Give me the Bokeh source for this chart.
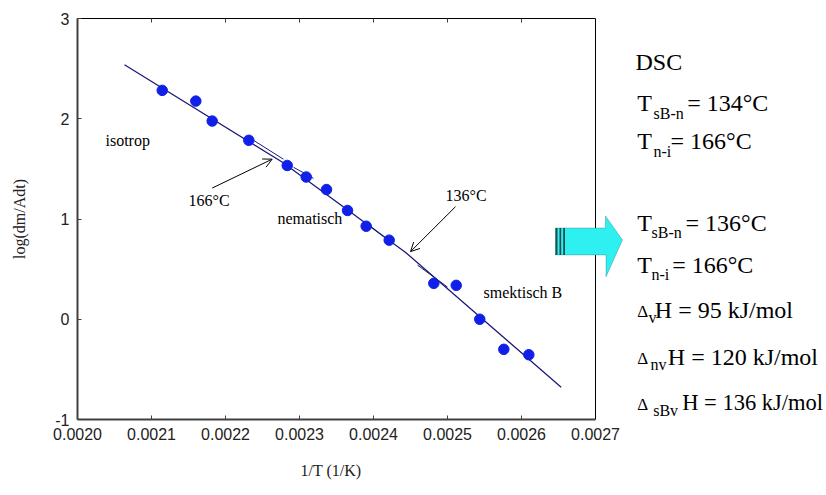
from bokeh.plotting import figure
from bokeh.models import (Label, Arrow, OpenHead, FixedTicker, PrintfTickFormatter,
                          LinearAxis, PolyAnnotation, Range1d, Span, Title)
from bokeh.embed import file_html
from bokeh.resources import INLINE

# ---- data ----
inv_T = [0.0021145, 0.0021599, 0.0021820, 0.0022315, 0.0022834, 0.0023091, 0.0023365,
         0.0023649, 0.0023901, 0.0024212, 0.0024815, 0.0025118, 0.0025436, 0.0025761, 0.0026099]
log_rate = [2.283, 2.176, 1.977, 1.785, 1.534, 1.419, 1.294,
            1.085, 0.928, 0.789, 0.358, 0.338, 0.000, -0.300, -0.354]

fit_x = [0.0020635, 0.002277, 0.002443, 0.0026536]
fit_y = [2.539, 1.566, 0.669, -0.678]

sub_fit_x = [[0.0022378, 0.0022784], [0.0022919, 0.0023189], [0.0023892, 0.0024230], [0.0024595, 0.0025000]]
sub_fit_y = [[1.785, 1.596], [1.516, 1.406], [0.968, 0.769], [0.540, 0.321]]

x_ticks = [0.0020, 0.0021, 0.0022, 0.0023, 0.0024, 0.0025, 0.0026, 0.0027]
y_ticks = [-1, 0, 1, 2, 3]

phase_labels = ["isotrop", "nematisch", "smektisch B"]
transition_labels = ["166°C", "136°C"]

# ---- layout ----
W, H = 826, 495
FL, FR, FT, FB = 77, 595, 18, 420
X0, X1, Y0, Y1 = 0.0020, 0.0027, -1.0, 3.0


def px2x(px):
    return X0 + (px - FL) / (FR - FL) * (X1 - X0)


def py2y(py):
    return Y1 - (py - FT) / (FB - FT) * (Y1 - Y0)


# the frame spans to the right edge so the side notes are not clipped;
# the axes are bounded to the real plot box
p = figure(width=W, height=H, x_range=Range1d(X0, px2x(W)), y_range=Range1d(Y0, Y1),
           output_backend="svg", toolbar_location=None,
           min_border_left=FL, min_border_right=0, min_border_top=FT, min_border_bottom=H - FB)
p.background_fill_color = "white"
p.border_fill_color = "white"
p.outline_line_color = None
p.xgrid.visible = False
p.ygrid.visible = False

serif = "Liberation Serif"
sans = "Liberation Sans"

for ax in (p.xaxis[0], p.yaxis[0]):
    ax.axis_line_color = "#404040"
    ax.axis_line_width = 2
    ax.major_tick_in = 4
    ax.major_tick_out = 0
    ax.minor_tick_line_color = None
    ax.major_tick_line_color = "#404040"
    ax.major_label_text_font = sans
    ax.major_label_text_font_size = "16px"
    ax.major_label_text_color = "#222222"
    ax.axis_label_text_font = serif
    ax.axis_label_text_font_size = "16px"
    ax.axis_label_text_font_style = "normal"
    ax.axis_label_text_color = "#222222"

p.xaxis.bounds = (X0, X1)
p.xaxis.ticker = FixedTicker(ticks=x_ticks)
p.xaxis.formatter = PrintfTickFormatter(format="%.4f")
p.xaxis.major_label_standoff = 8

p.yaxis.ticker = FixedTicker(ticks=y_ticks)
p.yaxis.formatter = PrintfTickFormatter(format="%d")
p.yaxis.axis_label = "log(dm/Adt)"
p.yaxis.major_label_standoff = 8
p.yaxis.axis_label_standoff = 24

# x-axis title, placed under the plot box (not the extended frame)
p.add_layout(Title(text="1/T (1/K)", align="left", offset=300 - FL, standoff=34,
                   vertical_align="bottom",
                   text_font=serif, text_font_size="16px", text_font_style="normal",
                   text_color="#222222"), "below")

top_axis = LinearAxis(ticker=FixedTicker(ticks=x_ticks), bounds=(X0, X1),
                      axis_line_color="black", axis_line_width=1,
                      major_tick_in=4, major_tick_out=0, minor_tick_line_color=None,
                      major_tick_line_color="#404040", major_label_text_font_size="1px",
                      major_label_text_color=None, major_label_standoff=0)
p.add_layout(top_axis, "above")

# right border of the plot box
p.add_layout(Span(location=X1, dimension="height", line_color="black", line_width=1))

# ---- glyphs ----
line_col = "#1c1c78"
p.line(fit_x, fit_y, line_color=line_col, line_width=1.3)
p.multi_line(sub_fit_x, sub_fit_y, line_color=line_col, line_width=1)
p.scatter(inv_T, log_rate, size=10.5, fill_color="#1020e8", line_color="#1020e8")


# ---- labels ----
def add_label(text, px, py, size="16px", font=serif, align="left"):
    p.add_layout(Label(x=px2x(px), y=py2y(py), text=text, text_font=font,
                       text_font_size=size, text_align=align, text_baseline="middle",
                       text_color="black"))


add_label(phase_labels[0], 105, 140)
add_label(phase_labels[1], 277, 218)
add_label(phase_labels[2], 483, 293)
add_label(transition_labels[0], 188, 200)
add_label(transition_labels[1], 445, 195)

p.add_layout(Arrow(x_start=px2x(211.7), y_start=py2y(188), x_end=px2x(271.7), y_end=py2y(159),
                   line_width=1, line_color="black",
                   end=OpenHead(size=9, line_width=1, line_color="black")))
p.add_layout(Arrow(x_start=px2x(455), y_start=py2y(206.7), x_end=px2x(410), y_end=py2y(251.7),
                   line_width=1, line_color="black",
                   end=OpenHead(size=9, line_width=1, line_color="black")))

# ---- cyan block arrow ----
arrow_px = [(555, 228), (605, 228), (605, 216), (622, 240), (605.5, 277), (605.5, 255), (555, 255)]
p.add_layout(PolyAnnotation(xs=[px2x(a) for a, b in arrow_px], ys=[py2y(b) for a, b in arrow_px],
                            fill_color="#2ff0f0", fill_alpha=1.0, line_color="#1b5a5a", line_width=1))
for a, b in [(555, 557), (559, 560.7), (562.7, 564.5)]:
    rect = [(a, 228), (b, 228), (b, 255), (a, 255)]
    p.add_layout(PolyAnnotation(xs=[px2x(u) for u, v in rect], ys=[py2y(v) for u, v in rect],
                                fill_color="#1b4f4f", fill_alpha=1.0, line_color=None))

# ---- right-hand text block (y = visual centre of the line) ----
add_label("DSC", 635, 62, size="24px")

t_lines = [
    (103, "sB-n", 653, "= 134°C", 686.7),
    (141, "n-i", 653, "= 166°C", 670),
    (223, "sB-n", 651, "= 136°C", 685),
    (265, "n-i", 651, "= 166°C", 671.7),
]
for yc, sub, sx, rest, rx in t_lines:
    add_label("T", 636.7, yc, size="24px")
    add_label(sub, sx, yc + 10, size="16px")
    add_label(rest, rx, yc, size="24px")

d_lines = [
    (310, "v", 648, "H = 95 kJ/mol", 654.3, "24px"),
    (357, "nv", 650, "H = 120 kJ/mol", 667.3, "24px"),
    (403, "sBv", 652.7, "H = 136 kJ/mol", 681.7, "22.5px"),
]
for yc, sub, sx, rest, rx, fs in d_lines:
    add_label("Δ", 636.7, yc + 2, size="17px")
    add_label(sub, sx, yc + 8, size="16px")
    add_label(rest, rx, yc, size=fs)

open("out.html", "w").write(file_html(p, INLINE))
